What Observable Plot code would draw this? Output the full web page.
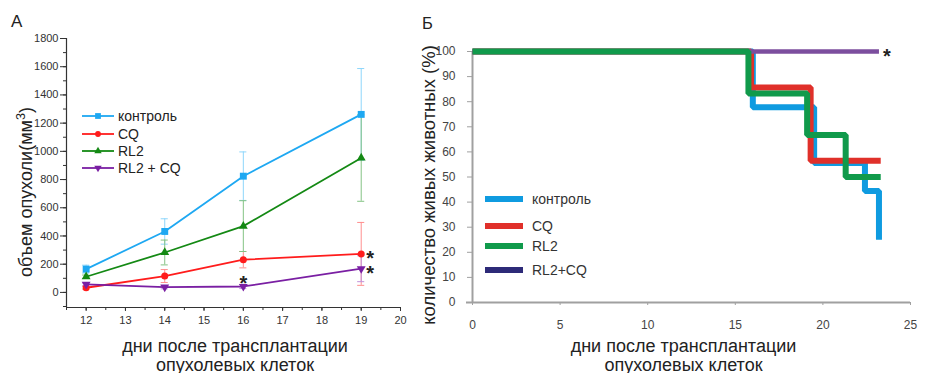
<!DOCTYPE html>
<html><head><meta charset="utf-8">
<script src="https://cdn.jsdelivr.net/npm/d3@7"></script>
<script src="https://cdn.jsdelivr.net/npm/@observablehq/plot@0.6"></script>
<style>
body{margin:0;background:#fff;font-family:"Liberation Sans",Arial,sans-serif;}
#wrap{position:relative;width:925px;height:373px;overflow:hidden;background:#fff;}
#wrap > svg{position:absolute;top:0;}
.abs{position:absolute;white-space:nowrap;color:#222;line-height:1;}
.abs svg{position:static;display:block;flex:none;}
</style></head><body><div id="wrap"></div>
<script>
// ---------- Panel A data ----------
const days = [12, 14, 16, 19];
const seriesA = ["контроль", "CQ", "RL2", "RL2 + CQ"];
const volControl = [165, 432, 824, 1262];
const errControl = [28, 90, 172, 325];
const volCQ = [33, 116, 232, 273];
const errCQ = [10, 46, 58, 223];
const volRL2 = [111, 283, 470, 953];
const errRL2 = [12, 88, 180, 307];
const volCombo = [57, 37, 42, 168];
const errCombo = [10, 12, 15, 92];
const xTicksA = [12, 13, 14, 15, 16, 17, 18, 19, 20];
const yTicksA = [0, 200, 400, 600, 800, 1000, 1200, 1400, 1600, 1800];
const starsA = [{series: "RL2 + CQ", day: 16}, {series: "CQ", day: 19}, {series: "RL2 + CQ", day: 19}];

// ---------- Panel Б data ----------
const seriesB = ["контроль", "CQ", "RL2", "RL2+CQ"];
const survDaysControl = [0, 16, 19.5, 22.4, 23.2];
const survControl = [100, 77.8, 55.6, 44.4, 25];
const survDaysCQ = [0, 15.9, 19.3, 23.3];
const survCQ = [100, 85.7, 56.5, 56.5];
const survDaysRL2 = [0, 15.75, 19.1, 21.3, 23.3];
const survRL2 = [100, 83.3, 66.7, 50, 50];
const survDaysCombo = [0, 23.2];
const survCombo = [100, 100];
const xTicksB = [0, 5, 10, 15, 20, 25];
const yTicksB = [0, 10, 20, 30, 40, 50, 60, 70, 80, 90, 100];

// ---------- styles ----------
const colA = {"контроль": "#1ea8f2", "CQ": "#ff1c1c", "RL2": "#148914", "RL2 + CQ": "#7a1fa3"};
const barA = {"контроль": "#8ed6fb", "CQ": "#ff8f8f", "RL2": "#84c384", "RL2 + CQ": "#c190da"};
const symA = {"контроль": ["square", 0, 3.9], "CQ": ["circle", 0, 3.5], "RL2": ["triangle", 0, 3.3], "RL2 + CQ": ["triangle", 180, 3.3]};
const colB = {"контроль": "#0f9be0", "CQ": "#e0302a", "RL2": "#109a4b", "RL2+CQ": "#7c4e9e"};
const legB = {"контроль": "#0f9be0", "CQ": "#e0302a", "RL2": "#109a4b", "RL2+CQ": "#2d2a78"};

const volsA = [volControl, volCQ, volRL2, volCombo];
const errsA = [errControl, errCQ, errRL2, errCombo];
const rowsA = [];
seriesA.forEach((s, i) => days.forEach((d, j) => rowsA.push({series: s, day: d, v: volsA[i][j], e: errsA[i][j]})));
const ofA = s => rowsA.filter(r => r.series === s);

const marksA = [
  Plot.axisY({ticks: d3.range(-100, 1801, 100), tickSize: 3, fill: "none", label: null}),
  Plot.axisY({ticks: yTicksA, tickSize: 6, tickPadding: 2, tickFormat: d3.format("d"), label: null, fontSize: 11, fill: "#333"}),
  Plot.axisX({ticks: d3.range(11.5, 20.01, 0.5), tickSize: 3, fill: "none", label: null}),
  Plot.axisX({ticks: xTicksA, tickSize: 4, tickPadding: 5, tickFormat: d3.format("d"), label: null, fontSize: 11, fill: "#333"}),
  Plot.ruleX([11.5], {stroke: "#333", strokeWidth: 1.2}),
  Plot.ruleY([-107], {stroke: "#333", strokeWidth: 1.2})
];
seriesA.forEach(s => {
  const data = ofA(s);
  marksA.push(
    Plot.ruleX(data, {x: "day", y1: d => d.v - d.e, y2: d => d.v + d.e, stroke: barA[s], strokeWidth: 1}),
    Plot.ruleY(data, {y: d => d.v + d.e, x1: d => d.day - 0.09, x2: d => d.day + 0.09, stroke: barA[s], strokeWidth: 1}),
    Plot.ruleY(data, {y: d => d.v - d.e, x1: d => d.day - 0.09, x2: d => d.day + 0.09, stroke: barA[s], strokeWidth: 1})
  );
});
seriesA.forEach(s => {
  const data = ofA(s);
  marksA.push(
    Plot.line(data, {x: "day", y: "v", stroke: colA[s], strokeWidth: 1.8}),
    Plot.dot(data, {x: "day", y: "v", symbol: symA[s][0], rotate: symA[s][1], r: symA[s][2], fill: colA[s], stroke: "none"})
  );
});
const starRows = starsA.map(st => rowsA.find(r => r.series === st.series && r.day === st.day));
marksA.push(
  Plot.text(starRows.filter(r => r.day === 16), {x: "day", y: "v", text: () => "*", fontSize: 20, fontWeight: "bold", fill: "#222", dy: -3}),
  Plot.text(starRows.filter(r => r.day === 19), {x: "day", y: "v", text: () => "*", fontSize: 20, fontWeight: "bold", fill: "#222", dx: 9, dy: 5})
);

const left = Plot.plot({
  width: 410, height: 373,
  marginLeft: 66, marginRight: 10, marginTop: 38, marginBottom: 66,
  x: {domain: [11.5, 20]},
  y: {domain: [-107, 1800]},
  style: {fontFamily: "'Liberation Sans', Arial, sans-serif", color: "#333", background: "transparent", overflow: "visible"},
  marks: marksA
});
left.style.left = "0px";

// ---------- Panel Б ----------
const survSets = [
  ["контроль", survDaysControl, survControl],
  ["CQ", survDaysCQ, survCQ],
  ["RL2+CQ", survDaysCombo, survCombo],
  ["RL2", survDaysRL2, survRL2]
];
const marksB = [
  Plot.ruleX([0], {stroke: "#a0a0a0", strokeWidth: 2}),
  Plot.ruleY([0], {stroke: "#a0a0a0", strokeWidth: 2, insetLeft: -6}),
  Plot.axisY({ticks: yTicksB, tickSize: 5, tickPadding: 12, label: null, fontSize: 12, fill: "#444", stroke: "#a0a0a0"}),
  Plot.axisX({ticks: xTicksB, tickSize: 3, tickPadding: 15, label: null, fontSize: 12, fill: "#444", stroke: "#a0a0a0"})
];
survSets.forEach(([s, t, p]) => {
  const data = t.map((d, i) => ({day: d, pct: p[i]}));
  marksB.push(Plot.line(data, {x: "day", y: "pct", curve: "step-after", stroke: colB[s], strokeWidth: s === "RL2+CQ" ? 4.5 : 6, strokeLinejoin: "miter", strokeLinecap: "butt"}));
});
marksB.push(Plot.text([{day: survDaysCombo[1], pct: survCombo[1]}], {x: "day", y: "pct", text: () => "*", fontSize: 20, fontWeight: "bold", fill: "#222", dx: 8, dy: 5}));

const right = Plot.plot({
  width: 515, height: 373,
  marginLeft: 62, marginRight: 15, marginTop: 51, marginBottom: 71,
  x: {domain: [0, 25]},
  y: {domain: [0, 100]},
  style: {fontFamily: "'Liberation Sans', Arial, sans-serif", color: "#444", background: "transparent", overflow: "visible"},
  marks: marksB
});
right.style.left = "410px";

const wrap = document.getElementById("wrap");
wrap.appendChild(left);
wrap.appendChild(right);

function addDiv(html, style) {
  const d = document.createElement("div");
  d.className = "abs";
  d.innerHTML = html;
  Object.assign(d.style, style);
  wrap.appendChild(d);
  return d;
}

// titles
addDiv("A", {left: "11px", top: "13px", fontSize: "17px"});
addDiv("Б", {left: "422px", top: "15px", fontSize: "16.5px"});

// axis labels
addDiv('объем опухоли(мм<sup style="font-size:0.7em;line-height:0;vertical-align:0.55em">3</sup>)',
  {left: "25.5px", top: "192px", fontSize: "18px", transform: "translate(-50%,-50%) rotate(-90deg)"});
addDiv("количество живых животных (%)",
  {left: "429px", top: "185px", fontSize: "18.5px", transform: "translate(-50%,-50%) rotate(-90deg)"});
addDiv("дни после трансплантации<br>опухолевых клеток",
  {left: "235px", top: "336.5px", fontSize: "18px", lineHeight: "19px", textAlign: "center", transform: "translateX(-50%)"});
addDiv("дни после трансплантации<br>опухолевых клеток",
  {left: "683.5px", top: "336.5px", fontSize: "18px", lineHeight: "19px", textAlign: "center", transform: "translateX(-50%)"});

// legend A
const legYA = [116, 133.5, 151, 168];
seriesA.forEach((s, i) => {
  const [sym, rot, r] = symA[s];
  const symbolType = {square: d3.symbolSquare, circle: d3.symbolCircle, triangle: d3.symbolTriangle}[sym];
  const path = d3.symbol(symbolType, Math.PI * r * r * 0.7)();
  const svg = `<svg width="32" height="12"><line x1="0" x2="32" y1="6" y2="6" stroke="${colA[s]}" stroke-width="1.8"/><path d="${path}" transform="translate(16,6) rotate(${rot})" fill="${colA[s]}"/></svg>`;
  addDiv(`<div style="display:flex;align-items:center;height:16px">${svg}<span style="margin-left:4px;font-size:14px;color:#222">${s}</span></div>`,
    {left: "82px", top: (legYA[i] - 8) + "px"});
});

// legend Б
const legYB = [199, 226, 246, 270];
seriesB.forEach((s, i) => {
  const svg = `<svg width="38" height="6"><rect x="0" y="0" width="38" height="6" fill="${legB[s]}"/></svg>`;
  addDiv(`<div style="display:flex;align-items:center;height:16px">${svg}<span style="margin-left:9px;font-size:14px;color:#333">${s}</span></div>`,
    {left: "485px", top: (legYB[i] - 8) + "px"});
});
</script>
</body></html>
